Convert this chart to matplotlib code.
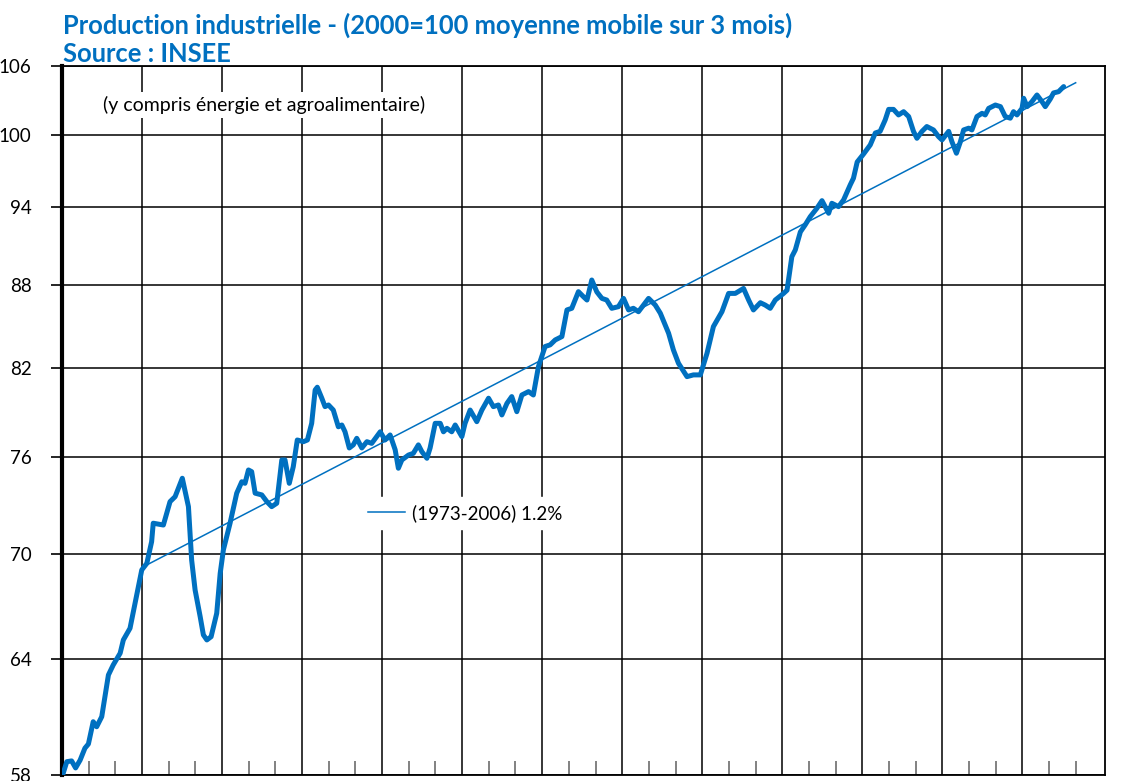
import matplotlib.pyplot as plt
from matplotlib.ticker import FixedLocator, NullFormatter, NullLocator

# Production industrielle, indice 2000=100, moyenne mobile 3 mois
years = [
    1970.00, 1970.18, 1970.36, 1970.51, 1970.68, 1970.86, 1970.99, 1971.17, 1971.30, 1971.49,
    1971.74, 1971.92, 1972.18, 1972.30, 1972.55, 1972.74, 1972.99, 1973.18, 1973.36, 1973.42,
    1973.80, 1974.05, 1974.24, 1974.51, 1974.74, 1974.86, 1974.99, 1975.18, 1975.30, 1975.43,
    1975.59, 1975.80, 1975.93, 1976.05, 1976.30, 1976.55, 1976.74, 1976.86, 1976.99, 1977.11,
    1977.24, 1977.49, 1977.68, 1977.86, 1978.05, 1978.24, 1978.36, 1978.52, 1978.67, 1978.82,
    1979.05, 1979.20, 1979.36, 1979.49, 1979.57, 1979.74, 1979.86, 1979.99, 1980.17, 1980.36,
    1980.49, 1980.61, 1980.77, 1980.92, 1981.05, 1981.24, 1981.43, 1981.61, 1981.93, 1982.11,
    1982.30, 1982.49, 1982.61, 1982.74, 1982.99, 1983.17, 1983.36, 1983.49, 1983.68, 1983.80,
    1983.99, 1984.18, 1984.30, 1984.43, 1984.61, 1984.74, 1984.99, 1985.11, 1985.30, 1985.55,
    1985.74, 1985.99, 1986.17, 1986.36, 1986.49, 1986.68, 1986.86, 1987.05, 1987.24, 1987.49,
    1987.67, 1987.86, 1988.11, 1988.30, 1988.49, 1988.74, 1988.93, 1989.11, 1989.36, 1989.55,
    1989.68, 1989.86, 1990.05, 1990.24, 1990.42, 1990.61, 1990.86, 1991.05, 1991.24, 1991.42,
    1991.61, 1991.80, 1991.99, 1992.24, 1992.43, 1992.74, 1992.92, 1993.11, 1993.43, 1993.67,
    1993.93, 1994.18, 1994.42, 1994.74, 1994.99, 1995.24, 1995.55, 1995.74, 1995.92, 1996.18,
    1996.36, 1996.55, 1996.74, 1997.05, 1997.18, 1997.36, 1997.49, 1997.68, 1997.86, 1998.05,
    1998.30, 1998.49, 1998.74, 1998.86, 1999.11, 1999.30, 1999.55, 1999.67, 1999.81, 2000.05,
    2000.30, 2000.49, 2000.67, 2000.86, 2000.99, 2001.17, 2001.36, 2001.55, 2001.74, 2001.92,
    2002.05, 2002.24, 2002.42, 2002.67, 2002.86, 2002.99, 2003.24, 2003.36, 2003.53, 2003.68,
    2003.80, 2003.99, 2004.11, 2004.30, 2004.49, 2004.61, 2004.74, 2004.99, 2005.18, 2005.36,
    2005.55, 2005.67, 2005.80, 2005.99, 2006.05, 2006.18, 2006.36, 2006.55, 2006.74, 2006.86,
    2007.05, 2007.17, 2007.36, 2007.55,
]
index_values = [
    57.9, 58.66, 58.7, 58.35, 58.74, 59.34, 59.55, 60.69, 60.43, 60.95,
    63.15, 63.69, 64.33, 65.06, 65.71, 67.12, 69.05, 69.44, 70.73, 71.85,
    71.74, 73.18, 73.49, 74.65, 72.87, 69.64, 67.88, 66.36, 65.34, 65.06,
    65.24, 66.55, 68.85, 70.24, 71.85, 73.71, 74.43, 74.33, 75.18, 75.07,
    73.71, 73.6, 73.18, 72.87, 73.08, 75.82, 75.82, 74.33, 75.39, 77.12,
    77.01, 77.12, 78.22, 80.47, 80.66, 79.91, 79.34, 79.45, 79.11, 77.99,
    78.11, 77.66, 76.6, 76.8, 77.23, 76.6, 77.01, 76.9, 77.66, 77.12,
    77.45, 76.48, 75.29, 75.82, 76.14, 76.25, 76.8, 76.36, 75.93, 76.6,
    78.22, 78.22, 77.66, 77.89, 77.66, 78.11, 77.34, 78.22, 79.11, 78.33,
    79.11, 79.91, 79.34, 79.45, 78.78, 79.56, 80.02, 79.0, 80.13, 80.36,
    80.13, 82.08, 83.5, 83.62, 83.97, 84.21, 86.14, 86.26, 87.49, 87.11,
    86.87, 88.36, 87.47, 86.99, 86.87, 86.26, 86.38, 86.99, 86.14, 86.26,
    86.01, 86.5, 86.99, 86.5, 85.9, 84.45, 83.26, 82.32, 81.39, 81.51,
    81.51, 83.02, 84.93, 86.01, 87.36, 87.36, 87.73, 86.87, 86.14, 86.67,
    86.5, 86.26, 86.87, 87.36, 87.6, 90.13, 90.65, 92.05, 92.6, 93.25,
    93.92, 94.53, 93.52, 94.32, 94.05, 94.59, 95.81, 96.35, 97.69, 98.36,
    99.12, 100.13, 100.27, 101.25, 102.16, 102.16, 101.68, 101.96, 101.54, 100.27,
    99.68, 100.27, 100.68, 100.39, 99.82, 99.54, 100.27, 99.4, 98.42, 99.4,
    100.39, 100.54, 100.39, 101.54, 101.82, 101.68, 102.25, 102.54, 102.4, 101.54,
    101.4, 101.96, 101.68, 102.25, 103.13, 102.4, 102.83, 103.42, 102.83, 102.4,
    103.07, 103.6, 103.71, 104.16,
]

# tendance 1973-2006 : +1.2% par an
trend_years = [1973.0, 2008.0]
trend_values = [69.2, 104.5]

y_ticks = [58, 64, 70, 76, 82, 88, 94, 100, 106]
grid_years = list(range(1973, 2007, 3))
minor_years = list(range(1971, 2009))

blue = "#0070c0"
plt.rcParams["font.family"] = ["Lato", "DejaVu Sans"]

fig = plt.figure(figsize=(11.26, 7.81), dpi=100)
ax = fig.add_axes([62 / 1126, 6 / 781, 1043 / 1126, 709 / 781])

ax.set_yscale("log")
ax.set_ylim(58, 106)
ax.set_xlim(1970, 2009.1)

ax.yaxis.set_major_locator(FixedLocator(y_ticks))
ax.yaxis.set_minor_locator(NullLocator())
ax.yaxis.set_minor_formatter(NullFormatter())
ax.set_yticklabels([str(v) for v in y_ticks])
ax.tick_params(axis="y", which="major", length=8, width=1.2, pad=14,
               labelsize=13.5, direction="out")

ax.xaxis.set_major_locator(FixedLocator(grid_years))
ax.xaxis.set_major_formatter(NullFormatter())
ax.xaxis.set_minor_locator(FixedLocator(minor_years))
ax.tick_params(axis="x", which="major", length=0)
ax.tick_params(axis="x", which="minor", direction="in", length=10,
               width=1.3, color="#777777")

ax.grid(True, which="major", color="black", linewidth=1.1)
ax.set_axisbelow(True)

for side in ["top", "right", "bottom"]:
    ax.spines[side].set_linewidth(1.3)
ax.spines["left"].set_linewidth(3.0)

ax.plot(years, index_values, color=blue, lw=3.6, solid_joinstyle="round",
        solid_capstyle="round", zorder=3)
ax.plot(trend_years, trend_values, color=blue, lw=1.1, zorder=4,
        label="(1973-2006) 1.2%")

leg = ax.legend(loc="center left", bbox_to_anchor=(0.277, 0.3695),
                frameon=True, fancybox=False, edgecolor="white",
                facecolor="white", framealpha=1, fontsize=13.5,
                handlelength=2.0, borderpad=0.4, handletextpad=0.35)
leg.set_zorder(5)

ax.text(0.0393, 0.945, "(y compris énergie et agroalimentaire)",
        transform=ax.transAxes, fontsize=14, va="center", ha="left",
        bbox=dict(facecolor="white", edgecolor="none", pad=3), zorder=5)

fig.text(63 / 1126, 1 - 25 / 781,
         "Production industrielle - (2000=100 moyenne mobile sur 3 mois)",
         fontsize=18.4, fontweight="bold", color=blue, va="center", ha="left")
fig.text(63 / 1126, 1 - 54 / 781, "Source : INSEE",
         fontsize=18.4, fontweight="bold", color=blue, va="center", ha="left")

fig.savefig("out.png", dpi=100)
